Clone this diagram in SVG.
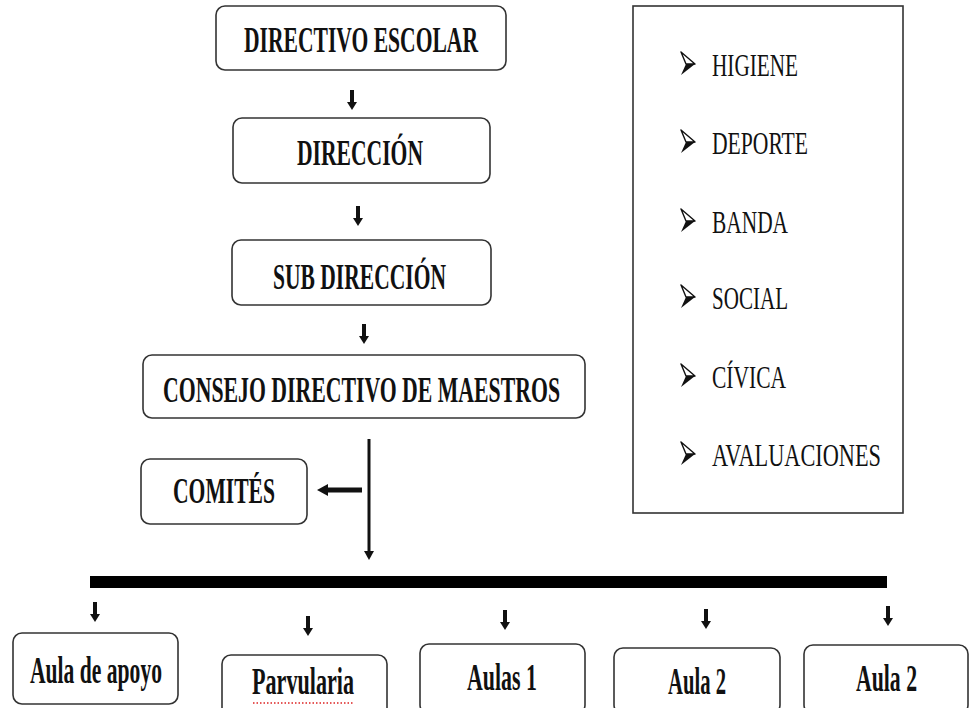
<svg xmlns="http://www.w3.org/2000/svg" width="970" height="708" viewBox="0 0 970 708">
<style>
.box{fill:#fff;stroke:#333;stroke-width:1.6}
.t{font-family:"Liberation Serif","Times New Roman",serif;font-weight:bold;font-size:35px;fill:#111}
.tb{font-family:"Liberation Serif","Times New Roman",serif;font-weight:bold;font-size:38px;fill:#111}
.li{font-family:"Liberation Serif","Times New Roman",serif;font-size:32px;fill:#111}
.ln{stroke:#111;fill:none}
</style>
<defs>
<g id="sa">
<rect x="-2" y="0" width="4" height="13" fill="#111"/>
<path d="M-5,12 L5,12 L0,20 Z" fill="#111"/>
</g>
<g id="bul">
<path d="M0,0 L14,12 L5,12 Z" fill="#fff" stroke="#111" stroke-width="1.4" stroke-linejoin="round"/>
<path d="M5,12 L14,12 L0,23 Z" fill="#111"/>
</g>
</defs>
<rect width="970" height="708" fill="#fff"/>

<g id="connectors">
<use href="#sa" x="352" y="90"/>
<use href="#sa" x="358" y="206"/>
<use href="#sa" x="364" y="324"/>
<line class="ln" x1="369" y1="439" x2="369" y2="552" stroke-width="3"/>
<path d="M364,551 L374,551 L369,560 Z" fill="#111"/>
<line class="ln" x1="362" y1="490" x2="326" y2="490" stroke-width="5"/>
<path d="M328,484 L328,496 L317,490 Z" fill="#111"/>
<rect x="90" y="576" width="797" height="12" fill="#000"/>
<use href="#sa" x="95" y="602"/>
<use href="#sa" x="308" y="616"/>
<use href="#sa" x="505" y="610"/>
<use href="#sa" x="706" y="609"/>
<use href="#sa" x="888" y="606"/>
</g>

<g id="n-directivo">
<rect class="box" x="216" y="6" width="290" height="64" rx="9"/>
<text class="t" x="244" y="52" textLength="234" lengthAdjust="spacingAndGlyphs">DIRECTIVO ESCOLAR</text>
</g>
<g id="n-direccion">
<rect class="box" x="233" y="118" width="257" height="65" rx="9"/>
<text class="t" x="297" y="165" textLength="126" lengthAdjust="spacingAndGlyphs">DIRECCIÓN</text>
</g>
<g id="n-subdireccion">
<rect class="box" x="232" y="240" width="259" height="65" rx="9"/>
<text class="t" x="273" y="289" textLength="173" lengthAdjust="spacingAndGlyphs">SUB DIRECCIÓN</text>
</g>
<g id="n-consejo">
<rect class="box" x="143" y="355" width="442" height="63" rx="9"/>
<text class="t" x="163" y="402" textLength="397" lengthAdjust="spacingAndGlyphs">CONSEJO DIRECTIVO DE MAESTROS</text>
</g>
<g id="n-comites">
<rect class="box" x="141" y="459" width="166" height="65" rx="9"/>
<text class="t" x="173" y="503" textLength="102" lengthAdjust="spacingAndGlyphs">COMITÉS</text>
</g>

<g id="n-aula-apoyo">
<rect class="box" x="13" y="633" width="165" height="71" rx="9"/>
<text class="tb" x="30" y="683" textLength="132" lengthAdjust="spacingAndGlyphs">Aula de apoyo</text>
</g>
<g id="n-parvularia">
<rect class="box" x="222" y="655" width="165" height="62" rx="9"/>
<text class="tb" x="252" y="694" textLength="102" lengthAdjust="spacingAndGlyphs">Parvularia</text>
<line x1="253" y1="703" x2="354" y2="703" stroke="#d22" stroke-width="1.5" stroke-dasharray="1.5,2"/>
</g>
<g id="n-aulas1">
<rect class="box" x="420" y="644" width="165" height="70" rx="9"/>
<text class="tb" x="467" y="690" textLength="70" lengthAdjust="spacingAndGlyphs">Aulas 1</text>
</g>
<g id="n-aula2a">
<rect class="box" x="614" y="648" width="166" height="66" rx="9"/>
<text class="tb" x="668" y="694" textLength="58" lengthAdjust="spacingAndGlyphs">Aula 2</text>
</g>
<g id="n-aula2b">
<rect class="box" x="804" y="645" width="164" height="69" rx="9"/>
<text class="tb" x="856" y="691" textLength="61" lengthAdjust="spacingAndGlyphs">Aula 2</text>
</g>

<g id="n-lista">
<rect x="633" y="6" width="270" height="507" fill="#fff" stroke="#333" stroke-width="1.6"/>
<use href="#bul" x="681" y="52"/>
<text class="li" x="712" y="76" textLength="86" lengthAdjust="spacingAndGlyphs">HIGIENE</text>
<use href="#bul" x="681" y="130"/>
<text class="li" x="712" y="154" textLength="96" lengthAdjust="spacingAndGlyphs">DEPORTE</text>
<use href="#bul" x="681" y="209"/>
<text class="li" x="712" y="233" textLength="76" lengthAdjust="spacingAndGlyphs">BANDA</text>
<use href="#bul" x="681" y="285"/>
<text class="li" x="712" y="309" textLength="76" lengthAdjust="spacingAndGlyphs">SOCIAL</text>
<use href="#bul" x="681" y="364"/>
<text class="li" x="712" y="388" textLength="74" lengthAdjust="spacingAndGlyphs">CÍVICA</text>
<use href="#bul" x="681" y="442"/>
<text class="li" x="712" y="466" textLength="169" lengthAdjust="spacingAndGlyphs">AVALUACIONES</text>
</g>
</svg>
